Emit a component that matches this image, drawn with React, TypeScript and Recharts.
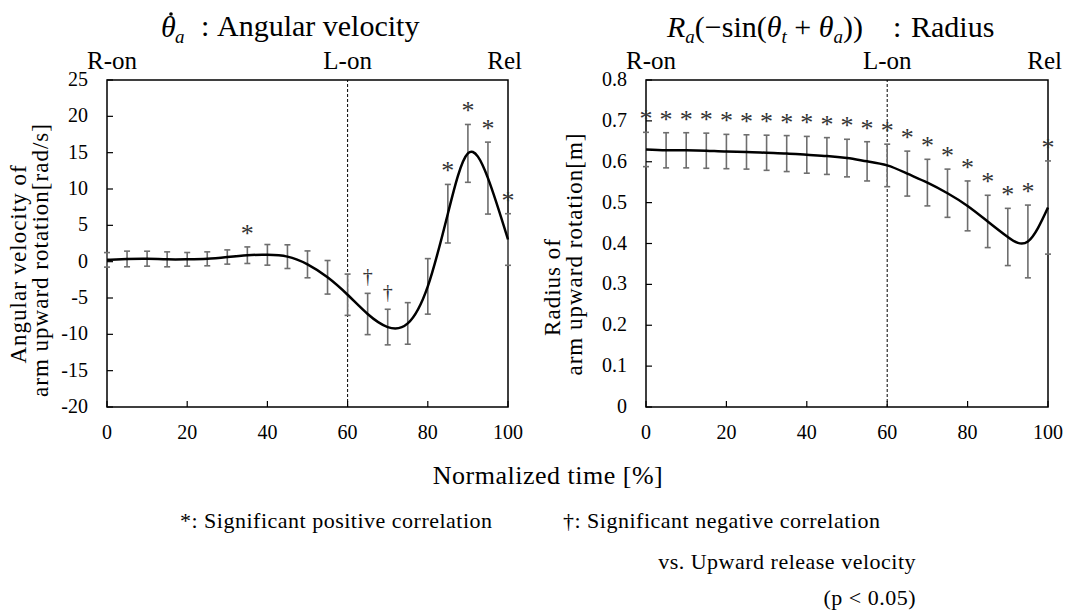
import React from "react";
import {
  ComposedChart,
  Line,
  XAxis,
  YAxis,
  ErrorBar,
  ReferenceLine,
  ReferenceArea,
} from "recharts";

const FONT = "'Liberation Serif', 'Times New Roman', serif";

// normalized time, every 5 %
const times = [0, 5, 10, 15, 20, 25, 30, 35, 40, 45, 50, 55, 60, 65, 70, 75, 80, 85, 90, 95, 100];

// angular velocity of arm upward rotation [rad/s]
const angMean = [0.25, 0.37, 0.41, 0.32, 0.32, 0.39, 0.64, 0.89, 0.94, 0.69, -0.37, -2.15, -4.55, -7.2, -9.0, -8.5, -3.4, 6.6, 14.9, 11.5, 3.05];
const angSd = [1.0, 1.08, 1.03, 1.03, 0.94, 0.96, 0.98, 1.14, 1.42, 1.63, 1.85, 2.31, 2.84, 2.84, 2.45, 2.86, 3.82, 4.03, 3.98, 4.95, 3.55];
const angSig = ["", "", "", "", "", "", "", "*", "", "", "", "", "", "†", "†", "", "", "*", "*", "*", "*"];

// radius of arm upward rotation [m]
const radMean = [0.63, 0.628, 0.628, 0.627, 0.625, 0.624, 0.622, 0.62, 0.617, 0.614, 0.609, 0.601, 0.591, 0.571, 0.549, 0.523, 0.492, 0.454, 0.416, 0.405, 0.488];
const radSd = [0.042, 0.043, 0.043, 0.043, 0.042, 0.042, 0.043, 0.044, 0.045, 0.045, 0.046, 0.048, 0.052, 0.055, 0.057, 0.059, 0.061, 0.064, 0.07, 0.089, 0.114];
const radSig = ["*", "*", "*", "*", "*", "*", "*", "*", "*", "*", "*", "*", "*", "*", "*", "*", "*", "*", "*", "*", "*"];

const timeTicks = [0, 20, 40, 60, 80, 100];
const angTicks = [-20, -15, -10, -5, 0, 5, 10, 15, 20, 25];
const radTicks = [0, 0.1, 0.2, 0.3, 0.4, 0.5, 0.6, 0.7, 0.8];
const eventTicks = [0, 60, 100];
const eventLabels = ["R-on", "L-on", "Rel"];

const angData = times.map((t, i) => ({
  t,
  mean: angMean[i],
  sd: angSd[i],
  top: angMean[i] + angSd[i],
  sig: angSig[i],
}));
const radData = times.map((t, i) => ({
  t,
  mean: radMean[i],
  sd: radSd[i],
  top: radMean[i] + radSd[i],
  sig: radSig[i],
}));

const serif = { fontFamily: FONT };
const italic = { fontFamily: FONT, fontStyle: "italic" as const };

function YTick(props: any) {
  const { x, y, payload } = props;
  return (
    <g>
      <line x1={x} x2={x + 6} y1={y} y2={y} stroke="#000" strokeWidth={1.2} />
      <text x={x - 19} y={y + 6} textAnchor="end" fontSize={20} style={serif} fill="#000">
        {String(payload.value)}
      </text>
    </g>
  );
}

function XTick(props: any) {
  const { x, y, payload } = props;
  return (
    <g>
      <line x1={x} x2={x} y1={y} y2={y - 6} stroke="#000" strokeWidth={1.2} />
      <text x={x} y={y + 32} textAnchor="middle" fontSize={20} style={serif} fill="#000">
        {String(payload.value)}
      </text>
    </g>
  );
}

function EventTick(props: any) {
  const { x, y, payload } = props;
  const i = eventTicks.indexOf(payload.value);
  const last = eventTicks.length - 1;
  const anchor = i === 0 ? "start" : i === last ? "end" : "middle";
  const dx = i === 0 ? -20 : i === last ? 14 : 0;
  return (
    <text x={x + dx} y={y - 11} textAnchor={anchor} fontSize={25} style={serif} fill="#000">
      {eventLabels[i]}
    </text>
  );
}

function SigMark(props: any) {
  const { cx, cy, payload, index } = props;
  const mark = payload.sig;
  if (!mark) return <g key={`s${index}`} />;
  const star = mark === "*";
  return (
    <text
      key={`s${index}`}
      x={cx}
      y={star ? cy - 5 : cy - 10}
      textAnchor="middle"
      fontSize={star ? 26 : 20}
      style={serif}
      fill="#333"
      stroke="none"
    >
      {mark}
    </text>
  );
}

function Panel({
  data,
  ticks,
  domain,
  margin,
  width,
}: {
  data: any[];
  ticks: number[];
  domain: [number, number];
  margin: { top: number; right: number; bottom: number; left: number };
  width: number;
}) {
  return (
    <ComposedChart width={width} height={460} data={data} margin={margin}>
      <XAxis
        dataKey="t"
        type="number"
        domain={[0, 100]}
        ticks={timeTicks}
        interval={0}
        height={53}
        tickSize={0}
        tickMargin={0}
        axisLine={false}
        tickLine={false}
        tick={(p: any) => <XTick {...p} />}
      />
      <XAxis
        xAxisId="top"
        orientation="top"
        dataKey="t"
        type="number"
        domain={[0, 100]}
        ticks={eventTicks}
        interval={0}
        height={40}
        tickSize={0}
        tickMargin={0}
        axisLine={false}
        tickLine={false}
        tick={(p: any) => <EventTick {...p} />}
      />
      <YAxis
        type="number"
        domain={domain}
        ticks={ticks}
        interval={0}
        width={40}
        tickSize={0}
        tickMargin={0}
        axisLine={false}
        tickLine={false}
        tick={(p: any) => <YTick {...p} />}
      />
      <ReferenceLine x={60} stroke="#000" strokeWidth={1} strokeDasharray="3 2" />
      <Line dataKey="mean" stroke="none" dot={false} activeDot={false} isAnimationActive={false}>
        <ErrorBar dataKey="sd" direction="y" width={3} stroke="#6e6e6e" strokeWidth={1.6} />
      </Line>
      <Line
        dataKey="mean"
        type="natural"
        stroke="#000"
        strokeWidth={2.5}
        dot={false}
        activeDot={false}
        isAnimationActive={false}
      />
      <Line
        dataKey="top"
        stroke="none"
        dot={(p: any) => <SigMark {...p} />}
        activeDot={false}
        isAnimationActive={false}
      />
      <ReferenceArea
        x1={0}
        x2={100}
        y1={domain[0]}
        y2={domain[1]}
        fill="none"
        fillOpacity={0}
        stroke="#000"
        strokeWidth={1.5}
      />
    </ComposedChart>
  );
}

export default function App() {
  return (
    <div
      style={{
        position: "absolute",
        left: 0,
        top: 0,
        width: 1069,
        height: 614,
        background: "#fff",
        overflow: "hidden",
      }}
    >
      <div style={{ position: "absolute", left: 0, top: 0 }}>
        <Panel
          data={angData}
          ticks={angTicks}
          domain={[-20, 25]}
          width={540}
          margin={{ top: 40, right: 32, bottom: 0, left: 67 }}
        />
      </div>
      <div style={{ position: "absolute", left: 540, top: 0 }}>
        <Panel
          data={radData}
          ticks={radTicks}
          domain={[0, 0.8]}
          width={529}
          margin={{ top: 40, right: 21, bottom: 0, left: 66 }}
        />
      </div>
      <svg
        width={1069}
        height={614}
        style={{ position: "absolute", left: 0, top: 0, pointerEvents: "none" }}
        fill="#000"
      >
        {/* left title, with the time-derivative dot drawn over theta */}
        <circle cx={171} cy={14} r={1.8} fill="#000" />
        <text fontSize={30} style={serif}>
          <tspan x={161} y={37} style={italic}>θ</tspan>
          <tspan x={175} y={43} fontSize={19} style={italic}>a</tspan>
          <tspan x={201} y={36}>:</tspan>
          <tspan x={217} y={36}>Angular velocity</tspan>
        </text>

        {/* right title */}
        <text x={667} y={37} fontSize={30} style={serif}>
          <tspan style={italic}>R</tspan>
          <tspan fontSize={19} dy={6} style={italic}>a</tspan>
          <tspan dy={-6}>(−sin(</tspan>
          <tspan style={italic}>θ</tspan>
          <tspan fontSize={19} dy={6} style={italic}>t</tspan>
          <tspan dy={-6}>{" + "}</tspan>
          <tspan style={italic}>θ</tspan>
          <tspan fontSize={19} dy={6} style={italic}>a</tspan>
          <tspan dy={-6}>))</tspan>
          <tspan x={893}>:</tspan>
          <tspan x={911}>Radius</tspan>
        </text>

        {/* y axis titles */}
        <text x={26} y={264} textAnchor="middle" fontSize={23} letterSpacing={1} style={serif} transform="rotate(-90 26 264)">
          Angular velocity of
        </text>
        <text x={48} y={260} textAnchor="middle" fontSize={23} letterSpacing={1} style={serif} transform="rotate(-90 48 260)">
          arm upward rotation[rad/s]
        </text>
        <text x={560} y={287} textAnchor="middle" fontSize={23} letterSpacing={1} style={serif} transform="rotate(-90 560 287)">
          Radius of
        </text>
        <text x={582} y={254} textAnchor="middle" fontSize={23} letterSpacing={1} style={serif} transform="rotate(-90 582 254)">
          arm upward rotation[m]
        </text>

        {/* x axis title and notes */}
        <text x={548} y={484} textAnchor="middle" fontSize={26} letterSpacing={0.5} style={serif}>
          Normalized time [%]
        </text>
        <text x={180} y={528} fontSize={22} letterSpacing={0.5} style={serif}>
          *: Significant positive correlation
        </text>
        <text x={563} y={528} fontSize={22} letterSpacing={0.5} style={serif}>
          †: Significant negative correlation
        </text>
        <text x={916} y={569} textAnchor="end" fontSize={22} letterSpacing={0.5} style={serif}>
          vs. Upward release velocity
        </text>
        <text x={916} y={605} textAnchor="end" fontSize={22} letterSpacing={0.5} style={serif}>
          (p &lt; 0.05)
        </text>
      </svg>
    </div>
  );
}
